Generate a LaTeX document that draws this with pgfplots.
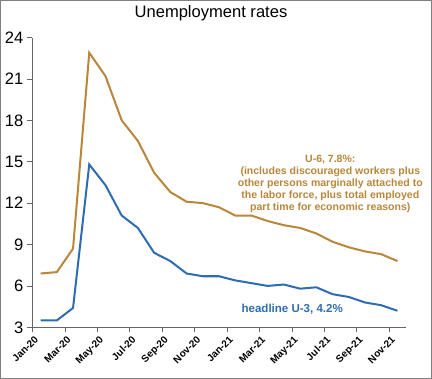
\documentclass[border=0pt]{standalone}
\usepackage{pgfplots}
\pgfplotsset{compat=1.18}
\usepackage{fontspec}
\setmainfont{Liberation Sans}
\definecolor{utan}{RGB}{185,134,58}
\definecolor{ublue}{RGB}{46,108,178}
\pgfplotstableread{
x u3 u6
0 3.5 6.9
1 3.5 7.0
2 4.4 8.7
3 14.8 22.9
4 13.3 21.2
5 11.1 18.0
6 10.2 16.5
7 8.4 14.2
8 7.8 12.8
9 6.9 12.1
10 6.7 12.0
11 6.7 11.7
12 6.4 11.1
13 6.2 11.1
14 6.0 10.7
15 6.1 10.4
16 5.8 10.2
17 5.9 9.8
18 5.4 9.2
19 5.2 8.8
20 4.8 8.5
21 4.6 8.3
22 4.2 7.8
}\data
\begin{document}
\begin{tikzpicture}[x=1pt,y=1pt]
\begin{axis}[
  at={(0pt,0pt)}, anchor=origin,
  scale only axis, width=372pt, height=289pt,
  xmin=-0.5, xmax=22.5, ymin=3, ymax=24,
  axis x line*=bottom, axis y line*=left,
  axis line style={black!60, line width=0.8pt},
  ytick={3,6,...,24},
  xtick={-0.5,1.5,...,21.5},
  xticklabels={Jan-20,Mar-20,May-20,Jul-20,Sep-20,Nov-20,Jan-21,Mar-21,May-21,Jul-21,Sep-21,Nov-21},
  x tick label style={font=\fontsize{10}{10}\selectfont\bfseries, rotate=45, anchor=north east, inner sep=1pt, yshift=-2pt},
  y tick label style={font=\fontsize{16.5}{16.5}\selectfont, inner sep=1pt, xshift=-3pt},
  /pgf/number format/assume math mode=true,
  tick style={black!60, line width=0.8pt},
  tick align=outside, major tick length=5pt,
  clip=false,
]
\addplot[utan, line width=2pt] table[x=x,y=u6] {\data};
\addplot[ublue, line width=2pt] table[x=x,y=u3] {\data};
\draw[black!50, line width=0.8pt] (rel axis cs:0,0) ++(-32pt,-51pt) rectangle ++(430pt,377pt);
\node[font=\fontsize{16.5}{18}\selectfont] at (rel axis cs:0,0) [xshift=178pt, yshift=313pt] {Unemployment rates};
\node[font=\fontsize{10.5}{12.2}\selectfont\bfseries, text=utan, align=center] at (rel axis cs:0,0) [xshift=297pt, yshift=143pt]
  {U-6, 7.8\%:\\(includes discouraged workers plus\\other persons marginally attached to\\the labor force, plus total employed\\part time for economic reasons)};
\node[font=\fontsize{11.5}{12}\selectfont\bfseries, text=ublue] at (rel axis cs:0,0) [xshift=259pt, yshift=18pt] {headline U-3, 4.2\%};
\end{axis}
\end{tikzpicture}
\end{document}
